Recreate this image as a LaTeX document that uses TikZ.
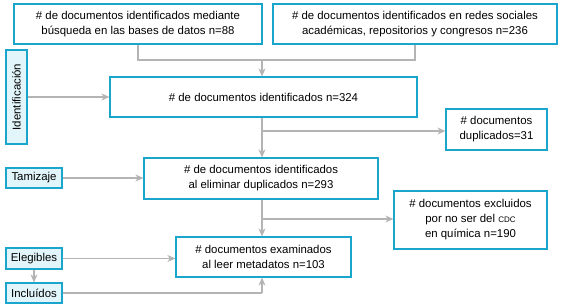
\documentclass[tikz,border=0pt]{standalone}
\usepackage{fontspec}
\setmainfont{Liberation Sans}
\usetikzlibrary{arrows.meta}
\definecolor{bcyan}{HTML}{1AA6CC}
\definecolor{lcyan}{HTML}{E2F5FA}
\definecolor{lgray}{HTML}{B4B4B4}
\begin{document}
\begin{tikzpicture}[x=1pt,y=-1pt,
  box/.style={draw=bcyan, line width=1.2pt, fill=white, align=center, inner sep=0pt, font=\fontsize{11.4}{15}\selectfont},
  side/.style={box, fill=lcyan},
  conn/.style={draw=lgray, line width=1.1pt},
  arr/.style={conn, -{Stealth[length=8pt,width=7pt,inset=2.5pt,fill=lgray]}}]
\useasboundingbox (0,0) rectangle (561,305);
\node[box, minimum width=248, minimum height=40] (b1) at (138,24) {\# de documentos identificados mediante\\búsqueda en las bases de datos n=88};
\node[box, minimum width=284, minimum height=40] (b2) at (415,24) {\# de documentos identificados en redes sociales\\académicas, repositorios y congresos n=236};
\node[box, minimum width=307, minimum height=40] (b3) at (263.5,97) {\# de documentos identificados n=324};
\node[side, minimum width=94, minimum height=21, rotate=90] (id) at (16.5,97) {Identificación};
\node[box, minimum width=101, minimum height=41] (dup) at (496.5,129.5) {\# documentos\\duplicados=31};
\node[side, minimum width=56, minimum height=20] (tam) at (34,178) {Tamizaje};
\node[box, minimum width=234, minimum height=41] (b4) at (261,178.5) {\# de documentos identificados\\al eliminar duplicados n=293};
\node[box, minimum width=153, minimum height=58] (exc) at (470.5,220) {\# documentos excluidos\\por no ser del {\footnotesize CDC}\\en química n=190};
\node[box, minimum width=175, minimum height=40] (b5) at (263.5,257) {\# documentos examinados\\al leer metadatos n=103};
\node[side, minimum width=56, minimum height=21] (ele) at (34,258.5) {Elegibles};
\node[side, minimum width=56, minimum height=20] (inc) at (34,293) {Incluídos};
\coordinate (m1) at (262,60);
\coordinate (m2) at (262,131);
\coordinate (m3) at (262,219);
\coordinate (m4) at (262,293);
\draw[conn] (b1.south) |- (m1);
\draw[conn] (b2.south) |- (m1);
\draw[arr] (m1) -- (m1 |- b3.north);
\draw[arr] (id.south) -- (id.south -| b3.west);
\draw[arr] (m1 |- b3.south) -- (m1 |- b4.north);
\draw[arr] (m2) -- (m2 -| dup.west);
\draw[arr] (tam.east) -- (tam.east -| b4.west);
\draw[arr] (m1 |- b4.south) -- (m1 |- b5.north);
\draw[arr] (m3) -- (m3 -| exc.west);
\draw[arr] (ele.east) -- (ele.east -| b5.west);
\draw[arr] (ele.south) -- (inc.north);
\draw[conn] (inc.east) -- (m4);
\draw[arr] (m4) -- (m4 |- b5.south);
\end{tikzpicture}
\end{document}
